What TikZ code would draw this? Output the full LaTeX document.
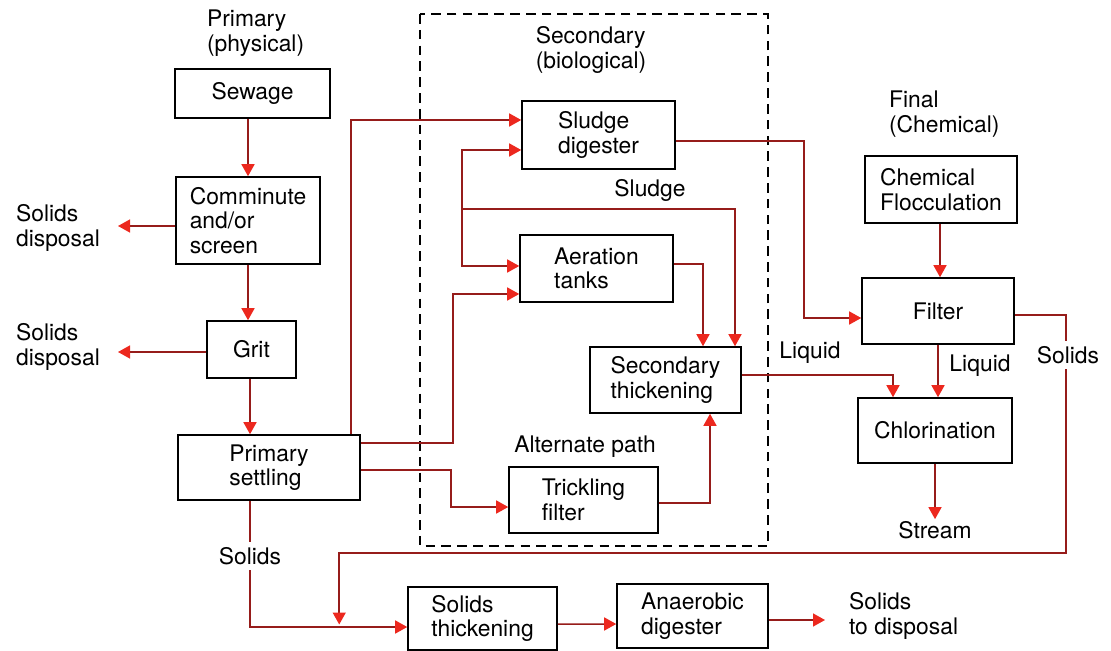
\documentclass[tikz,border=0pt]{standalone}
\usepackage{fontspec}
\setmainfont{TeX Gyre Heros}
\usetikzlibrary{arrows.meta,calc,positioning}
\definecolor{pipe}{RGB}{150,28,26}
\definecolor{tipred}{RGB}{236,40,30}
\tikzset{
  unit/.style={draw=black,line width=0.9pt,align=left,inner sep=2pt},
  lbl/.style={align=left,inner sep=1pt},
  gaplbl/.style={lbl,fill=white,inner sep=3pt},
  flow/.style={draw=pipe,line width=0.85pt,-{Triangle[length=0.24cm,width=0.26cm,color=tipred]}},
}

\begin{document}
\begin{tikzpicture}[x=0.02cm,y=-0.02cm,font=\fontsize{13}{14}\selectfont]
  \useasboundingbox (0,0) rectangle (1111,651);
  % secondary stage frame
  \draw[line width=0.9pt,dash pattern=on 5.5pt off 3.5pt] (420,14) rectangle (768,546);
  % stage titles
  \node[lbl,anchor=west] (primlbl) at (205,33) {Primary\\(physical)};
  \node[lbl] (seclbl) at (591,50) {Secondary\\(biological)};
  \node[lbl,anchor=west] (finlbl) at (887,114) {Final\\(Chemical)};
  % primary units
  \node[unit,minimum width=3.1cm,minimum height=0.98cm] (sewage) at (252.5,93.5) {Sewage};
  \node[unit,minimum width=2.88cm,minimum height=1.74cm] (comminute) at (248,220.5) {Comminute\\and/or\\screen};
  \node[unit,minimum width=1.78cm,minimum height=1.14cm] (grit) at (251.5,349.5) {Grit};
  \node[unit,minimum width=3.64cm,minimum height=1.3cm] (settling) at (269,467.5) {Primary\\settling};
  % secondary units
  \node[unit,minimum width=3.06cm,minimum height=1.36cm] (digester) at (598.5,135) {Sludge\\digester};
  \node[unit,minimum width=3.06cm,minimum height=1.34cm] (aeration) at (596.5,268.5) {Aeration\\tanks};
  \node[unit,minimum width=3.02cm,minimum height=1.32cm] (secthick) at (665.5,380) {Secondary\\thickening};
  \node[unit,minimum width=2.98cm,minimum height=1.32cm] (trickling) at (583.5,500) {Trickling\\filter};
  % final units
  \node[unit,minimum width=3.04cm,minimum height=1.34cm] (floc) at (941,189.5) {Chemical\\Flocculation};
  \node[unit,minimum width=3.04cm,minimum height=1.32cm] (filter) at (938,311) {Filter};
  \node[unit,minimum width=3.08cm,minimum height=1.3cm] (chlor) at (935,430.5) {Chlorination};
  % solids handling
  \node[unit,minimum width=2.98cm,minimum height=1.26cm] (solthick) at (482.5,618.5) {Solids\\thickening};
  \node[unit,minimum width=3.02cm,minimum height=1.28cm] (anaer) at (692.5,616) {Anaerobic\\digester};
  % outlets
  \node[lbl,anchor=west] (disp1) at (14,228) {Solids\\disposal};
  \node[lbl,anchor=west] (disp2) at (14,347) {Solids\\disposal};
  \node[lbl,anchor=west] (disp3) at (847,616) {Solids\\to disposal};
  \node[lbl] (stream) at (935,530) {Stream};
  \coordinate (out1) at (118,226);
  \coordinate (out2) at (118,352);
  \coordinate (out3) at (825,620);
  \coordinate (sjoin) at (462,209);
  % primary flow
  \draw[flow] (comminute.north |- sewage.south) -- (comminute.north);
  \draw[flow] (comminute.west |- out1) -- (out1);
  \draw[flow] (comminute.south) -- (comminute.south |- grit.north);
  \draw[flow] (grit.west |- out2) -- (out2);
  \draw[flow] (grit.south -| 250,0) -- (settling.north -| 250,0);
  % into secondary
  \draw[flow] ($(settling.north east)+(-10,0)$) |- ($(digester.west)+(0,-15)$);
  \draw[flow] (settling.east) ++(0,-24.5) -- ++(92,0) |- ($(aeration.west)+(0,25.5)$);
  \draw[flow] (settling.east) ++(0,2.5) -- ++(90,0) |- ($(trickling.west)+(0,7)$);
  % sludge return
  \draw[flow] (sjoin) |- ($(digester.west)+(0,15)$);
  \draw[flow] (sjoin) |- ($(aeration.west)+(0,-2.5)$);
  \draw[flow] (sjoin) -| ($(secthick.north)+(69.5,0)$);
  \draw[flow] ($(aeration.east)+(0,-4.5)$) -| ($(secthick.north)+(37.5,0)$);
  \draw[flow] ($(trickling.east)+(0,3)$) -| ($(secthick.south)+(44.5,0)$);
  % to final stage
  \draw[flow] ($(digester.east)+(0,6)$) -- ++(128,0) |- ($(filter.west)+(0,7)$);
  \draw[flow] ($(secthick.east)+(0,-5)$) -| ($(chlor.north)+(-42,0)$);
  \draw[flow] (floc.south -| 940,0) -- (filter.north -| 940,0);
  \draw[flow] (filter.south) -- (filter.south |- chlor.north);
  \draw[flow] (chlor.south) -- (stream.north);
  % solids
  \draw[flow] ($(filter.east)+(0,4)$) -- ++(51,0) -- ++(0,238) -| ($(solthick.west)+(-68,6)$);
  \draw[flow] (settling.south -| 250,0) |- ($(solthick.west)+(0,8.5)$);
  \draw[flow] ($(solthick.east)+(0,5.5)$) -- ($(anaer.west)+(0,8)$);
  \draw[flow] ($(anaer.east)+(0,4)$) -- (out3);
  % stream labels
  \node[lbl] (sludgelbl) at (650,190) {Sludge};
  \node[lbl] (liq1) at (810,353) {Liquid};
  \node[lbl] (liq2) at (980,366) {Liquid};
  \node[gaplbl] (sol1) at (1068,355) {Solids};
  \node[gaplbl] (sol2) at (250,556) {Solids};
  \node[lbl] (altlbl) at (585,447) {Alternate path};
\end{tikzpicture}
\end{document}
